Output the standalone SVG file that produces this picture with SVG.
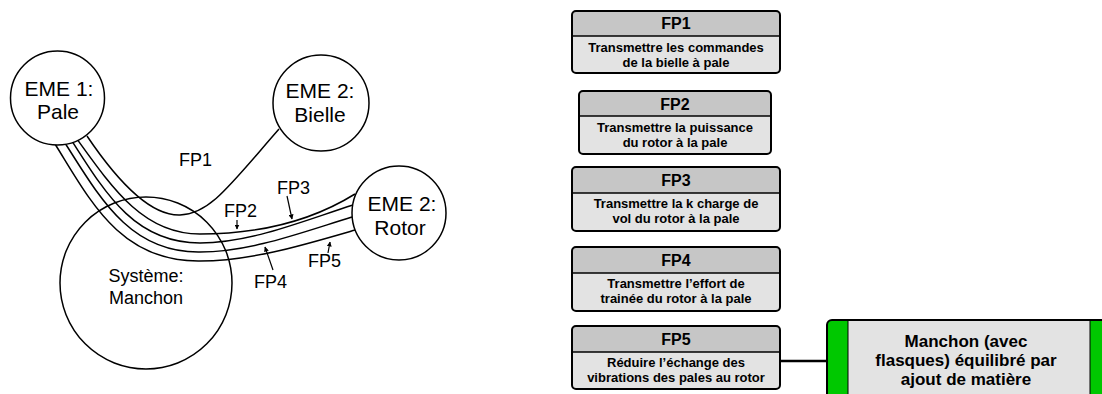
<svg xmlns="http://www.w3.org/2000/svg" width="1102" height="394" viewBox="0 0 1102 394">
<defs>
<marker id="ah" viewBox="0 0 10 10" refX="9" refY="5" markerWidth="5" markerHeight="5" orient="auto" markerUnits="userSpaceOnUse">
<path d="M0,0 L10,5 L0,10 z" fill="#000"/>
</marker>
<style>
.c{fill:#fff;stroke:#000;stroke-width:1.5}
.ln{fill:none;stroke:#000;stroke-width:1.5}
.ar{fill:none;stroke:#000;stroke-width:1.2}
.t{font-family:"Liberation Sans",Arial,sans-serif;fill:#000;text-anchor:middle}
.big{font-size:21px}
.mid{font-size:18px}
.lbl{font-family:"Liberation Sans",Arial,sans-serif;font-size:18px;fill:#000}
.bx{fill:#e3e3e3;stroke:none}
.hd{fill:#c6c6c6;stroke:none}
.bo{fill:none;stroke:#000;stroke-width:2}
.dv{stroke:#000;stroke-width:1.5}
.h{font-family:"Liberation Sans",Arial,sans-serif;font-weight:bold;font-size:16px;text-anchor:middle;fill:#000}
.b{font-family:"Liberation Sans",Arial,sans-serif;font-weight:bold;font-size:13px;text-anchor:middle;fill:#000}
.m{font-family:"Liberation Sans",Arial,sans-serif;font-weight:bold;font-size:17px;text-anchor:middle;fill:#000}
</style>
</defs>

<g id="manchon">
<circle class="c" cx="146" cy="283" r="86"/>
<text class="t mid" x="146" y="282">Système:</text>
<text class="t mid" x="146" y="304">Manchon</text>
</g>

<g id="connectors">
<path class="ln" d="M87,136 C118,182 150,216 180,215 C210,214 230,185 279,129"/>
<path class="ln" d="M77,139 C115,192 145,234 200,234 C250,234 305,225 355,194"/>
<path class="ln" d="M72,141 C107,196 136,243 200,243 C250,243 300,222 353,205"/>
<path class="ln" d="M65,143 C100,198 130,253 200,252 C250,252 300,233 352,217"/>
<path class="ln" d="M55,144 C90,200 120,262 200,261 C250,261 300,246 355,230"/>
<line class="ar" x1="237" y1="220" x2="237" y2="229" marker-end="url(#ah)"/>
<line class="ar" x1="287" y1="196" x2="292" y2="219" marker-end="url(#ah)"/>
<line class="ar" x1="273" y1="270" x2="265" y2="247" marker-end="url(#ah)"/>
<line class="ar" x1="328" y1="253" x2="330" y2="242" marker-end="url(#ah)"/>
<line x1="780" y1="361" x2="827" y2="361" stroke="#000" stroke-width="2.5"/>
<text class="lbl" x="179" y="166">FP1</text>
<text class="lbl" x="224" y="217">FP2</text>
<text class="lbl" x="277" y="194">FP3</text>
<text class="lbl" x="254" y="288">FP4</text>
<text class="lbl" x="308" y="267">FP5</text>
</g>

<g id="eme1">
<circle class="c" cx="57.5" cy="98" r="47"/>
<text class="t big" x="59" y="96">EME 1:</text>
<text class="t big" x="58" y="119">Pale</text>
</g>

<g id="eme2-bielle">
<circle class="c" cx="321" cy="103" r="48"/>
<text class="t big" x="320" y="98">EME 2:</text>
<text class="t big" x="320" y="122">Bielle</text>
</g>

<g id="eme2-rotor">
<circle class="c" cx="399" cy="213" r="47"/>
<text class="t big" x="402" y="211">EME 2:</text>
<text class="t big" x="400" y="235">Rotor</text>
</g>

<g id="fp1">
<rect class="bx" x="572" y="11" width="208" height="62" rx="4"/>
<path class="hd" d="M572,36 V15 Q572,11 576,11 H776 Q780,11 780,15 V36 Z"/>
<line class="dv" x1="572" y1="36" x2="780" y2="36"/>
<rect class="bo" x="572" y="11" width="208" height="62" rx="4"/>
<text class="h" x="676" y="29">FP1</text>
<text class="b" x="676" y="52">Transmettre les commandes</text>
<text class="b" x="676" y="67">de la bielle à pale</text>
</g>

<g id="fp2">
<rect class="bx" x="579" y="91" width="192" height="63" rx="4"/>
<path class="hd" d="M579,116 V95 Q579,91 583,91 H767 Q771,91 771,95 V116 Z"/>
<line class="dv" x1="579" y1="116" x2="771" y2="116"/>
<rect class="bo" x="579" y="91" width="192" height="63" rx="4"/>
<text class="h" x="675" y="110">FP2</text>
<text class="b" x="675" y="132">Transmettre la puissance</text>
<text class="b" x="675" y="147">du rotor à la pale</text>
</g>

<g id="fp3">
<rect class="bx" x="572" y="167" width="208" height="64" rx="4"/>
<path class="hd" d="M572,193 V171 Q572,167 576,167 H776 Q780,167 780,171 V193 Z"/>
<line class="dv" x1="572" y1="193" x2="780" y2="193"/>
<rect class="bo" x="572" y="167" width="208" height="64" rx="4"/>
<text class="h" x="676" y="186">FP3</text>
<text class="b" x="676" y="208">Transmettre la k charge de</text>
<text class="b" x="676" y="223">vol du rotor à la pale</text>
</g>

<g id="fp4">
<rect class="bx" x="572" y="247" width="208" height="64" rx="4"/>
<path class="hd" d="M572,273 V251 Q572,247 576,247 H776 Q780,247 780,251 V273 Z"/>
<line class="dv" x1="572" y1="273" x2="780" y2="273"/>
<rect class="bo" x="572" y="247" width="208" height="64" rx="4"/>
<text class="h" x="676" y="266">FP4</text>
<text class="b" x="676" y="288">Transmettre l’effort de</text>
<text class="b" x="676" y="303">trainée du rotor à la pale</text>
</g>

<g id="fp5">
<rect class="bx" x="572" y="326" width="208" height="63" rx="4"/>
<path class="hd" d="M572,352 V330 Q572,326 576,326 H776 Q780,326 780,330 V352 Z"/>
<line class="dv" x1="572" y1="352" x2="780" y2="352"/>
<rect class="bo" x="572" y="326" width="208" height="63" rx="4"/>
<text class="h" x="676" y="345">FP5</text>
<text class="b" x="676" y="367">Réduire l’échange des</text>
<text class="b" x="676" y="382">vibrations des pales au rotor</text>
</g>

<g id="solution">
<rect x="827" y="320" width="300" height="100" rx="5" fill="#e3e3e3"/>
<path d="M827,420 V325 Q827,320 832,320 H848 V420 Z" fill="#00c800"/>
<rect x="1090" y="320" width="40" height="100" fill="#00c800"/>
<line x1="848" y1="320" x2="848" y2="420" stroke="#000" stroke-width="1"/>
<line x1="1090" y1="320" x2="1090" y2="420" stroke="#000" stroke-width="1"/>
<rect x="827" y="320" width="300" height="100" rx="5" fill="none" stroke="#000" stroke-width="2"/>
<text class="m" x="966" y="347">Manchon (avec</text>
<text class="m" x="966" y="366">flasques) équilibré par</text>
<text class="m" x="966" y="385">ajout de matière</text>
</g>
</svg>
